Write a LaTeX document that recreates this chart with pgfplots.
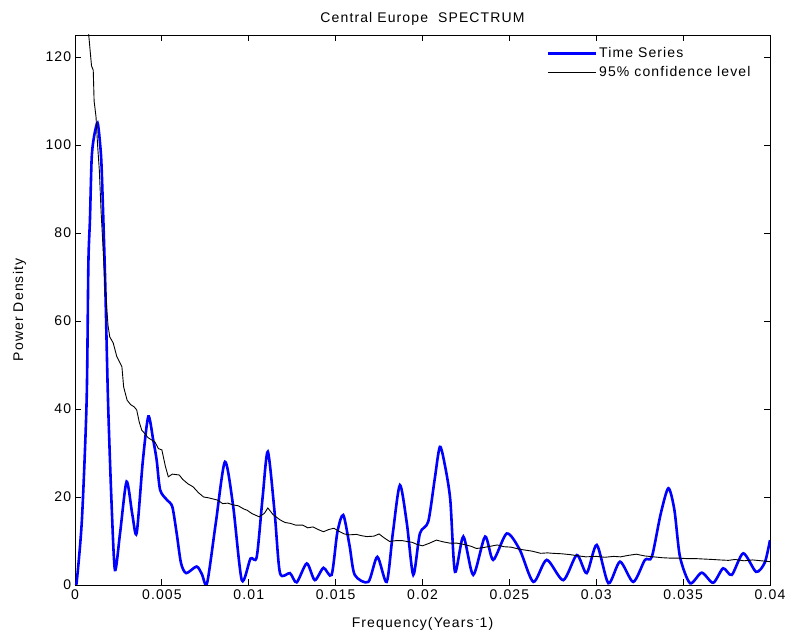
\documentclass[border=0pt]{standalone}
\usepackage{pgfplots}
\pgfplotsset{compat=1.18}
\usepackage{fontspec}
\setmainfont[LetterSpace=8]{Liberation Sans}
\definecolor{tsblue}{RGB}{0,0,255}
\begin{document}
\fontsize{14}{16}\selectfont
\begin{tikzpicture}
\begin{axis}[
  scale only axis,
  width=695pt, height=550pt,
  xmin=0, xmax=0.04, ymin=0, ymax=125,
  scaled x ticks=false,
  xtick={0,0.005,0.01,0.015,0.02,0.025,0.03,0.035,0.04},
  xticklabels={0,0.005,0.01,0.015,0.02,0.025,0.03,0.035,0.04},
  ytick={0,20,40,60,80,100,120},
  /pgf/number format/assume math mode=true,
  tick align=inside,
  major tick length=6pt,
  tick style={black, line width=0.8pt},
  axis line style={black, line width=0.8pt},
  ticklabel style={font=\fontsize{14}{16}\selectfont},
  xticklabel style={yshift=0pt},
  yticklabel style={xshift=1pt},
  title={Central Europe~ SPECTRUM},
  title style={yshift=-1pt},
  xlabel={Frequency(Years\,\textsuperscript{-}1)},
  ylabel={Power Density},
  xlabel style={yshift=-8pt},
  ylabel style={yshift=10pt},
  legend style={draw=none, fill=white, at={(0.978,0.985)}, anchor=north east,
    font=\fontsize{14}{16}\selectfont, row sep=3pt,
    legend cell align=left, inner sep=2pt},
  legend image code/.code={\draw[#1] (0pt,0pt) -- (48pt,0pt);},
]
\addplot[tsblue, line width=2.6pt, smooth, tension=0.45] coordinates {
(0,0) (0.0001,0.8) (0.0004,15) (0.00067,42) (0.00077,73) (0.00086,83)
(0.00096,97) (0.0011,102) (0.0013,105) (0.00145,100) (0.00154,94)
(0.00173,70) (0.0019,42) (0.0021,19) (0.0023,3.4) (0.0026,12)
(0.00297,23.5) (0.0033,16) (0.00355,11.8) (0.0039,28) (0.00422,38.3)
(0.0045,33) (0.0047,28.4) (0.0049,21.6) (0.0053,19.3) (0.0056,17.8)
(0.00585,11.8) (0.0061,5) (0.0064,2.7) (0.007,4.2) (0.0073,2.5)
(0.0076,0.4) (0.0081,14) (0.00863,28) (0.0091,18) (0.0096,1.1)
(0.0101,6) (0.01046,6.4) (0.0108,20) (0.0111,30.3) (0.0115,16)
(0.0118,2.7) (0.01237,2.7) (0.01276,0.6) (0.01334,4.9) (0.0138,1.1)
(0.0143,3.9) (0.01477,2.3) (0.0151,12) (0.01544,15.9) (0.0158,9)
(0.0161,2.3) (0.01688,0.7) (0.0174,6.4) (0.01794,0.7) (0.0183,12)
(0.0187,22.7) (0.0191,14) (0.01947,2.3) (0.01985,11.7) (0.02033,14.4)
(0.0207,24) (0.021,31.4) (0.0213,27) (0.0216,19.3) (0.02187,3)
(0.02235,11) (0.02292,2.3) (0.0236,11) (0.02407,5.7) (0.02485,11.7)
(0.0256,8) (0.02638,0.7) (0.02715,5.7) (0.0281,1.1) (0.02888,6.8)
(0.02945,2.7) (0.03003,9.1) (0.0307,0.4) (0.03137,5.3) (0.03213,0.7)
(0.0328,5.7) (0.0332,6.4) (0.0337,16) (0.03415,22) (0.0345,17)
(0.03482,6.4) (0.0354,0.4) (0.03607,2.8) (0.03673,0.5) (0.0373,3.8)
(0.0378,2.3) (0.03846,7.2) (0.0392,3) (0.0397,5.1) (0.04,10.2)
};
\addlegendentry{Time Series}
\addplot[black, line width=0.9pt] coordinates {
(0.0007,130) (0.0008,124.6) (0.00095,118) (0.00105,117) (0.0011,110)
(0.00121,106.4) (0.0013,100) (0.0014,94.3) (0.0015,85) (0.0016,77.7)
(0.0017,70) (0.00182,63.3) (0.0019,59) (0.002,56.4) (0.0022,55)
(0.0024,52) (0.0027,49.6) (0.0028,45) (0.003,42) (0.0032,41)
(0.0034,40.5) (0.00355,39.8) (0.0037,37) (0.00384,35.2) (0.004,34.5)
(0.0042,33.5) (0.0044,33) (0.0046,32.5) (0.0048,31) (0.005,30.7)
(0.0052,27) (0.00537,24.6) (0.0056,25.2) (0.006,25) (0.0062,24)
(0.0065,23) (0.0068,22.3) (0.0071,21) (0.0074,20) (0.0077,19.8)
(0.008,19.5) (0.0082,19.3) (0.0085,18.5) (0.0088,18.6) (0.0091,18.2)
(0.0094,18) (0.0097,17.3) (0.0099,17) (0.0102,16.2) (0.0106,15.5)
(0.0109,16.3) (0.0111,17.5) (0.0114,16) (0.0118,14.8) (0.0121,14.2)
(0.0124,14) (0.0127,13.6) (0.0131,13.6) (0.0134,13) (0.0137,13.2)
(0.014,12.6) (0.0143,12.1) (0.0146,12.6) (0.0149,12.9) (0.0152,12.2)
(0.0155,11.6) (0.0158,11.4) (0.0162,11.5) (0.0165,11.2) (0.0168,11)
(0.0172,11.1) (0.0175,11.6) (0.0178,10.7) (0.0181,9.9) (0.0185,10.1)
(0.0188,10.1) (0.0191,9.9) (0.0194,9.7) (0.0197,9.2) (0.02,8.9)
(0.0204,9.5) (0.0208,10.2) (0.0212,9.8) (0.0216,9.5) (0.022,9.5)
(0.0224,9.2) (0.0228,8.8) (0.0231,8.3) (0.0235,8.5) (0.0239,8.8)
(0.0243,9.1) (0.0247,8.7) (0.0251,8.6) (0.0255,8.2) (0.0258,8)
(0.0263,7.7) (0.0268,7.2) (0.0272,7.3) (0.0275,7.2) (0.028,7.1)
(0.0285,6.9) (0.029,6.6) (0.0294,6.4) (0.03,6.5) (0.0305,6.3)
(0.031,6.5) (0.0314,6.4) (0.0318,6.7) (0.0323,7) (0.0328,6.6)
(0.0333,6.4) (0.0338,6.2) (0.0343,6.1) (0.0348,6.1) (0.0352,6)
(0.0357,6) (0.0362,5.9) (0.0367,5.8) (0.0371,5.7) (0.0376,5.6)
(0.038,5.8) (0.0385,5.5) (0.039,5.7) (0.0395,5.5) (0.04,5.3)
};
\addlegendentry{95\% confidence level}
\end{axis}
\pgfresetboundingbox
\path (-75pt,-52pt) rectangle (710pt,585pt);
\end{tikzpicture}
\end{document}
